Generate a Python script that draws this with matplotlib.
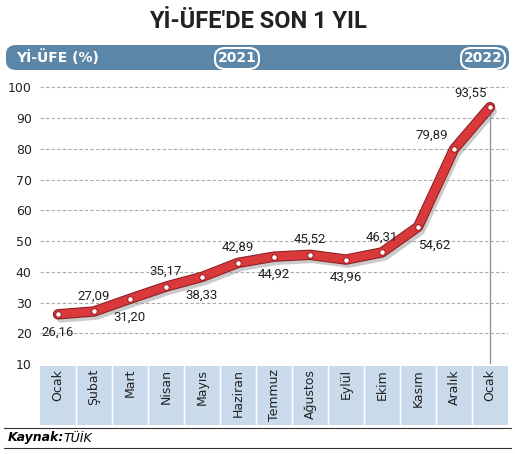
import matplotlib
matplotlib.use("Agg")
import matplotlib.pyplot as plt
from matplotlib.patches import FancyBboxPatch
import matplotlib.patheffects as pe

months = ["Ocak","Şubat","Mart","Nisan","Mayıs","Haziran","Temmuz","Ağustos","Eylül","Ekim","Kasım","Aralık","Ocak"]
values = [26.16,27.09,31.20,35.17,38.33,42.89,44.92,45.52,43.96,46.31,54.62,79.89,93.55]
labels = ["26,16","27,09","31,20","35,17","38,33","42,89","44,92","45,52","43,96","46,31","54,62","79,89","93,55"]
yticks = [10,20,30,40,50,60,70,80,90,100]

W, H = 515, 454
fig = plt.figure(figsize=(W/100, H/100), dpi=100)
fig.patch.set_facecolor("white")

def fx(x): return x / W
def fy(y): return 1 - y / H

fig.text(0.5, fy(22), "Yİ-ÜFE'DE SON 1 YIL", ha="center", va="center", fontsize=17,
         fontweight="bold", color="#222222", family="Roboto", fontstretch="condensed")

bar = FancyBboxPatch((fx(6), fy(70)), fx(503), fy(45)-fy(70), boxstyle="round,pad=0,rounding_size=0.02",
                     transform=fig.transFigure, facecolor="#5b86a8", edgecolor="none")
fig.patches.append(bar)
fig.text(fx(16), fy(57), "Yİ-ÜFE (%)", color="white", fontsize=10, fontweight="bold", va="center")
for xc, t in [(237, "2021"), (483, "2022")]:
    p = FancyBboxPatch((fx(xc-22), fy(69)), fx(44), fy(48)-fy(69), boxstyle="round,pad=0,rounding_size=0.02",
                       transform=fig.transFigure, facecolor="#5b86a8", edgecolor="white", lw=1.5)
    fig.patches.append(p)
    fig.text(fx(xc), fy(58.5), t, color="white", fontsize=10, fontweight="bold", ha="center", va="center")

ax = fig.add_axes([fx(40), fy(364), fx(468), fy(75)-fy(364)])
ax.set_xlim(-0.5, 12.5)
ax.set_ylim(10, 104)
for s in ax.spines.values(): s.set_visible(False)
ax.set_yticks(yticks)
ax.set_yticklabels([str(t) for t in yticks], fontsize=9, color="#222222")
ax.tick_params(axis="y", length=0, pad=6)
ax.set_xticks([])
for t in yticks:
    ax.axhline(t, color="#aaaaaa", lw=0.8, ls=(0, (3, 2)), zorder=0)
x = list(range(len(values)))
ax.vlines(12, 10, values[-1], color="#8a9aa8", lw=1, zorder=1)
ax.plot(x, values, color="#d9393b", lw=6, solid_capstyle="round", zorder=3,
        path_effects=[pe.SimpleLineShadow(offset=(2, -3), shadow_color="#999999", alpha=0.5),
                      pe.Stroke(linewidth=7.5, foreground="#8a1f22"), pe.Normal()])
ax.scatter(x, values, s=18, facecolor="white", edgecolor="#b02a2d", lw=1.0, zorder=4)
offs = [(0,-13),(0,11),(0,-13),(0,11),(0,-13),(0,11),(0,-13),(0,11),(0,-13),(0,11),(12,-13),(-16,10),(-14,10)]
for xi, v, l, (dx, dy) in zip(x, values, labels, offs):
    ax.annotate(l, (xi, v), xytext=(dx, dy), textcoords="offset points", ha="center", va="center",
                fontsize=9.5, color="#222222", zorder=5, family="Roboto", fontstretch="condensed")

bx = fig.add_axes([fx(40), fy(425), fx(468), fy(366)-fy(425)])
bx.set_xlim(-0.5, 12.5); bx.set_ylim(0, 1)
bx.set_facecolor("#c9dbea")
for s in bx.spines.values(): s.set_visible(False)
bx.set_xticks([]); bx.set_yticks([])
for i in range(1, 13):
    bx.axvline(i - 0.5, color="white", lw=1)
for i, m in enumerate(months):
    bx.text(i, 0.95, m, rotation=90, ha="center", va="top", fontsize=9, color="#222222")

fig.add_artist(plt.Line2D([fx(4), fx(511)], [fy(428), fy(428)], color="#333333", lw=0.8))
fig.text(fx(8), fy(438), "Kaynak:", fontsize=9, fontweight="bold", style="italic", va="center")
fig.text(fx(63), fy(438), "TÜİK", fontsize=9, style="italic", va="center")
fig.add_artist(plt.Line2D([fx(4), fx(511)], [fy(448), fy(448)], color="#333333", lw=0.8))

fig.savefig("out.png", dpi=100)
